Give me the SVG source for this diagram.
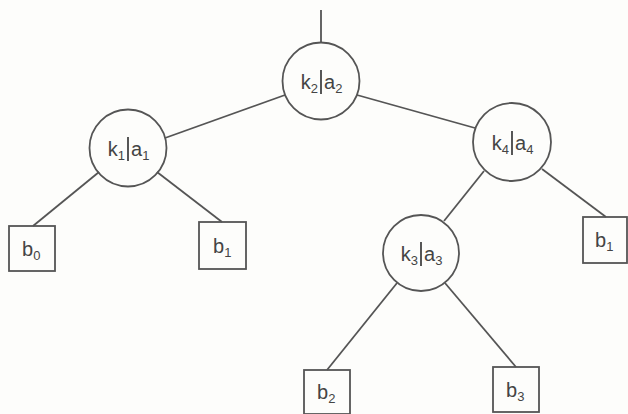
<svg xmlns="http://www.w3.org/2000/svg" width="628" height="414" viewBox="0 0 628 414">
  <style>
    .edge { stroke: #555; stroke-width: 1.8; fill: none; }
    .node circle, .node rect { fill: none; stroke: #555; stroke-width: 1.8; }
    .bar { stroke: #444; stroke-width: 1.8; }
    text { font-family: "Liberation Sans", Arial, sans-serif; font-size: 20px; fill: #444; }
    .sub { font-size: 13px; }
  </style>
  <rect width="628" height="414" fill="#fdfdfb"/>

  <g id="connectors">
    <line class="edge" x1="321" y1="10" x2="321" y2="42"/>
    <line class="edge" x1="285" y1="95" x2="165" y2="138"/>
    <line class="edge" x1="357" y1="95" x2="475" y2="128"/>
    <line class="edge" x1="99" y1="172" x2="33" y2="226"/>
    <line class="edge" x1="157" y1="172" x2="222" y2="222"/>
    <line class="edge" x1="484" y1="171" x2="444" y2="221"/>
    <line class="edge" x1="542" y1="169" x2="606" y2="217"/>
    <line class="edge" x1="397" y1="283" x2="327" y2="370"/>
    <line class="edge" x1="445" y1="283" x2="516" y2="367"/>
  </g>

  <g id="n-k2a2" class="node">
    <circle cx="321" cy="81" r="38.5"/>
    <line class="bar" x1="321" y1="70" x2="321" y2="94"/>
    <text x="318" y="89" text-anchor="end">k<tspan class="sub" dy="4">2</tspan></text>
    <text x="324" y="89">a<tspan class="sub" dy="4">2</tspan></text>
  </g>

  <g id="n-k1a1" class="node">
    <circle cx="128" cy="148" r="38.5"/>
    <line class="bar" x1="128" y1="137" x2="128" y2="161"/>
    <text x="125" y="156" text-anchor="end">k<tspan class="sub" dy="4">1</tspan></text>
    <text x="131" y="156">a<tspan class="sub" dy="4">1</tspan></text>
  </g>

  <g id="n-k4a4" class="node">
    <circle cx="512" cy="142" r="39"/>
    <line class="bar" x1="512" y1="131" x2="512" y2="155"/>
    <text x="509" y="150" text-anchor="end">k<tspan class="sub" dy="4">4</tspan></text>
    <text x="515" y="150">a<tspan class="sub" dy="4">4</tspan></text>
  </g>

  <g id="n-k3a3" class="node">
    <circle cx="421" cy="253" r="38"/>
    <line class="bar" x1="421" y1="242" x2="421" y2="266"/>
    <text x="418" y="261" text-anchor="end">k<tspan class="sub" dy="4">3</tspan></text>
    <text x="424" y="261">a<tspan class="sub" dy="4">3</tspan></text>
  </g>

  <g id="n-b0" class="node">
    <rect x="9" y="226" width="46" height="45"/>
    <text x="22" y="256">b<tspan class="sub" dy="4">0</tspan></text>
  </g>

  <g id="n-b1-left" class="node">
    <rect x="199" y="222" width="47" height="47"/>
    <text x="213" y="253">b<tspan class="sub" dy="4">1</tspan></text>
  </g>

  <g id="n-b1-right" class="node">
    <rect x="583" y="217" width="44" height="46"/>
    <text x="595" y="247">b<tspan class="sub" dy="4">1</tspan></text>
  </g>

  <g id="n-b2" class="node">
    <rect x="304" y="370" width="46" height="44"/>
    <text x="317" y="399">b<tspan class="sub" dy="4">2</tspan></text>
  </g>

  <g id="n-b3" class="node">
    <rect x="493" y="367" width="46" height="45"/>
    <text x="506" y="397">b<tspan class="sub" dy="4">3</tspan></text>
  </g>
</svg>
